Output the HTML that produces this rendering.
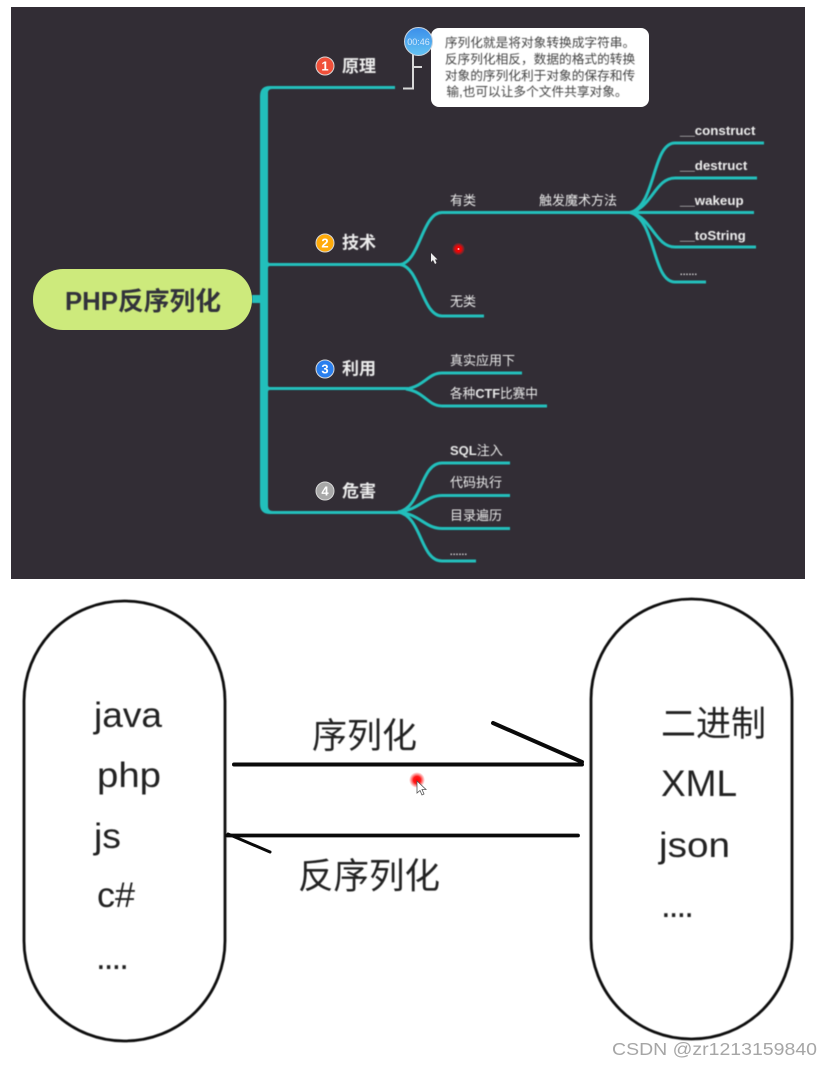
<!DOCTYPE html>
<html><head><meta charset="utf-8"><style>
html,body{margin:0;padding:0;background:#fff}
body{width:832px;height:1066px;overflow:hidden;position:relative}
svg{position:absolute;left:0;top:0}
text{font-family:"Liberation Sans","Noto Sans CJK SC",sans-serif}
</style></head><body>
<svg width="832" height="1066" viewBox="0 0 832 1066" xmlns="http://www.w3.org/2000/svg">
<defs>
<filter id="b"><feGaussianBlur stdDeviation="0.4"/></filter>
<filter id="s"><feGaussianBlur stdDeviation="0.5"/></filter>
<linearGradient id="g" x1="0" y1="0" x2="0" y2="1"><stop offset="0" stop-color="#3b8eea"/><stop offset="1" stop-color="#63c3f3"/></linearGradient>
<radialGradient id="r"><stop offset="0" stop-color="#ff0000"/><stop offset="0.45" stop-color="#ff0000" stop-opacity=".9"/><stop offset="1" stop-color="#ff2020" stop-opacity="0"/></radialGradient>
</defs>
<rect x="11" y="7" width="794" height="572" fill="#322d35"/>
<g filter="url(#s)">
<path d="M260 96Q260 86 270 86H395V89H272Q268 89 268 93V261Q268 263 270 263H400V266H270Q268 266 268 268V385Q268 387 270 387H408V390H270Q268 390 268 392V506Q268 511 273 511H400V514H270Q260 514 260 504V303H252V295H260Z" fill="#20bfbb"/>
<g fill="none" stroke="#20bfbb" stroke-width="3">
<path d="M400 264.500C420 262 422 212.500 442 212.500H630"/>
<path d="M400 264.500C420 267 422 316 442 316H484"/>
<path d="M630 212.500C656 206 652 143 675 143H764"/>
<path d="M630 212.500C652 208 655 178 675 178H757"/>
<path d="M630 212.500H754"/>
<path d="M630 212.500C652 217 655 247 675 247H756"/>
<path d="M630 212.500C656 219 652 282 675 282H706"/>
<path d="M406 389C425 386 428 373 442 373H522"/>
<path d="M406 389C425 392 428 406 442 406H547"/>
<path d="M398 512C422 508 420 463 442 463H510"/>
<path d="M398 512C420 510 425 495.500 442 495.500H510"/>
<path d="M398 512C420 514 425 528.500 442 528.500H510"/>
<path d="M398 512C422 516 420 561 442 561H476"/>
</g>
</g>
<g fill="none" stroke="#d8d8d8" stroke-width="2">
<path d="M403 88.500H413V50"/><path d="M413 67H422"/>
</g>
<rect x="431" y="28" width="218" height="79" rx="8" fill="#fff"/>
<circle cx="418.500" cy="41.500" r="14" fill="url(#g)" stroke="#c9d4df"/>
<text x="418.500" y="45" font-size="9" fill="#d5e9fb" text-anchor="middle">00:46</text>
<g font-size="12.700" fill="#444" text-anchor="middle" filter="url(#b)">
<text x="540" y="47">序列化就是将对象转换成字符串。</text>
<text x="540" y="63.500">反序列化相反，数据的格式的转换</text>
<text x="540" y="80">对象的序列化利于对象的保存和传</text>
<text x="537" y="96">输,也可以让多个文件共享对象。</text>
</g>
<rect x="33" y="269" width="219" height="61" rx="30" fill="#cdea7c"/>
<text x="65" y="310" font-size="25.500" font-weight="700" fill="#33323a" textLength="156" lengthAdjust="spacingAndGlyphs" filter="url(#b)">PHP反序列化</text>
<g stroke="#d8d8d8" stroke-width="1">
<circle cx="325" cy="66" r="9" fill="#f0503a"/>
<circle cx="325" cy="243" r="9" fill="#ffab0a"/>
<circle cx="325" cy="369" r="9" fill="#2a7fee"/>
<circle cx="325" cy="491" r="9" fill="#a8a8a8"/>
</g>
<g font-size="13" font-weight="700" fill="#fff" text-anchor="middle">
<text x="325" y="70.500">1</text><text x="325" y="247.500">2</text><text x="325" y="373.500">3</text><text x="325" y="495.500">4</text>
</g>
<g font-size="17" font-weight="700" fill="#ececec" filter="url(#b)">
<text x="342" y="72">原理</text>
<text x="342" y="248.500">技术</text>
<text x="342" y="374.500">利用</text>
<text x="342" y="497">危害</text>
</g>
<g font-size="13" fill="#e8e8e8" filter="url(#b)">
<text x="450" y="205">有类</text>
<text x="539" y="205">触发魔术方法</text>
<text x="450" y="306">无类</text>
<text x="450" y="365">真实应用下</text>
<text x="450" y="398" textLength="88" lengthAdjust="spacingAndGlyphs">各种<tspan font-weight="700">CTF</tspan>比赛中</text>
<text x="450" y="455"><tspan font-weight="700">SQL</tspan>注入</text>
<text x="450" y="487">代码执行</text>
<text x="450" y="520">目录遍历</text>
</g>
<g font-size="13.300" font-weight="700" fill="#ececec" filter="url(#b)">
<text x="680" y="135">__construct</text>
<text x="680" y="170">__destruct</text>
<text x="680" y="205">__wakeup</text>
<text x="680" y="240">__toString</text>
<text x="680" y="275" font-size="9" textLength="17">......</text>
<text x="450" y="555" font-size="9" textLength="17">......</text>
</g>
<circle cx="458.500" cy="249" r="6.500" fill="url(#r)"/><circle cx="458.500" cy="249" r="1" fill="#ffb0b0"/>
<path d="M431 253V262L433 260L435 264L436.500 263L435 259.500H437.500Z" fill="#eee"/>

<g fill="none" stroke="#111" stroke-width="2.800" filter="url(#s)">
<rect x="24" y="601" width="201" height="440" rx="100" ry="100"/>
<rect x="591" y="599" width="201" height="440" rx="100" ry="100"/>
</g>
<g fill="none" stroke="#0a0a0a" stroke-width="4" stroke-linecap="round">
<path d="M234 764.500H582"/><path d="M493 723L582 762"/>
<path d="M227 835.500H578" stroke-width="3.800"/><path d="M228 834L270 852" stroke-width="3"/>
</g>
<g fill="#222" filter="url(#b)">
<g font-size="35">
<text x="312" y="748" font-size="35">序列化</text>
<text x="298" y="888" font-size="35.500">反序列化</text>
<text x="94" y="727" textLength="68" lengthAdjust="spacingAndGlyphs">java</text>
<text x="97" y="787" textLength="64" lengthAdjust="spacingAndGlyphs">php</text>
<text x="94" y="848" textLength="27" lengthAdjust="spacingAndGlyphs">js</text>
<text x="97" y="907" textLength="38" lengthAdjust="spacingAndGlyphs">c#</text>
<text x="96" y="969" textLength="33">....</text>
<text x="661" y="736" font-size="35">二进制</text>
<text x="661" y="796" font-size="37">XML</text>
<text x="659" y="857" textLength="71" lengthAdjust="spacingAndGlyphs">json</text>
<text x="661" y="917" textLength="33">....</text>
</g></g>
<circle cx="417" cy="780" r="8" fill="url(#r)"/>
<path d="M417 781V793L420 790.500L422 795L424 794L422 789.500H426Z" fill="#fff" stroke="#555" stroke-width=".8"/>
<text x="612" y="1055" font-size="17.500" fill="#a6a6a6" textLength="205" lengthAdjust="spacingAndGlyphs">CSDN @zr1213159840</text>
</svg>
</body></html>
